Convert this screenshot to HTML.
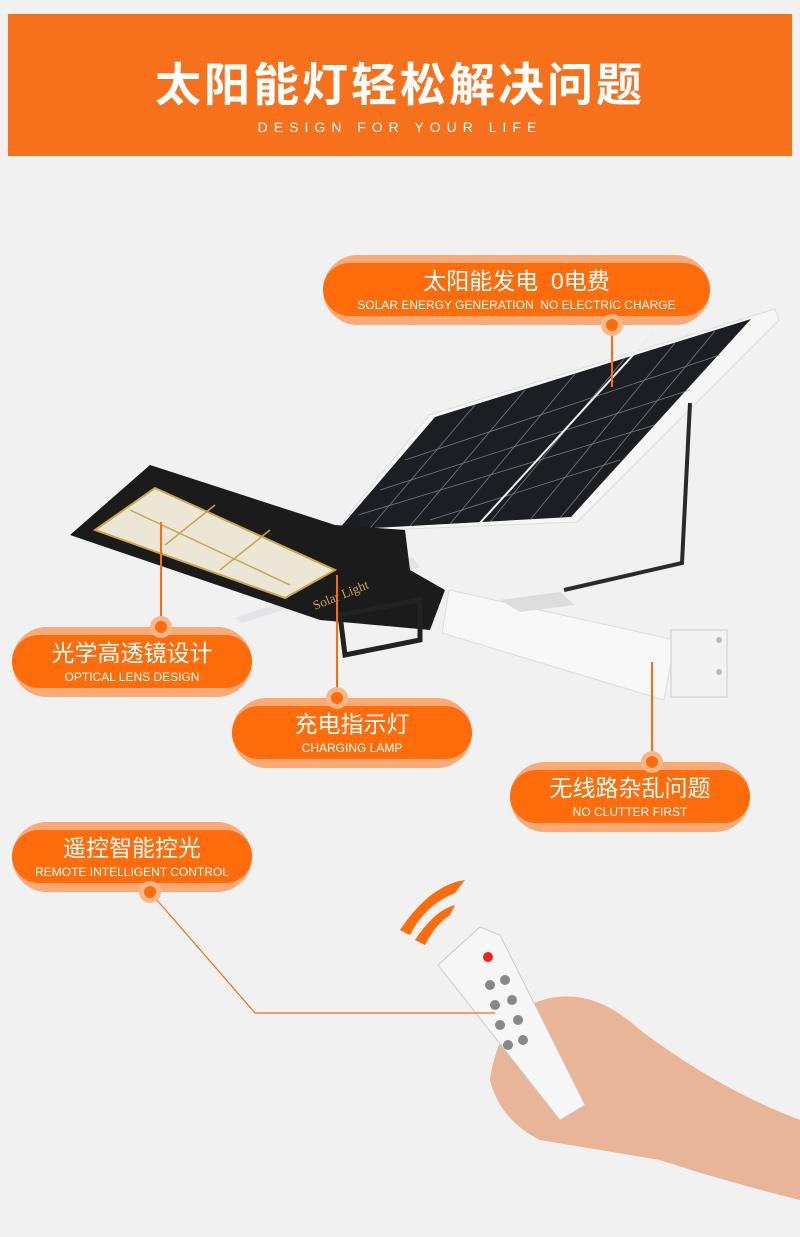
<!DOCTYPE html>
<html><head><meta charset="utf-8"><style>
body{margin:0;width:800px;height:1237px;background:#f1f1f1;position:relative;overflow:hidden;font-family:"Liberation Sans","Noto Sans CJK SC",sans-serif}
.hdr{position:absolute;left:8px;top:14px;width:784px;height:142px;background:#f7711c}
.hdr h1{margin:0;position:absolute;top:46px;width:100%;text-align:center;color:#fff;font-size:46px;font-weight:bold;letter-spacing:3px;line-height:50px}
.hdr p{margin:0;position:absolute;top:105px;width:100%;text-align:center;color:#fff;font-size:14px;letter-spacing:6px}
.pill{position:absolute;height:70px;border-radius:35px;background:#f9aa76}
.pill .in{position:absolute;left:0;right:0;top:8px;height:53px;border-radius:27px;background:#fe6c0c;color:#fff;text-align:center}
.pill .cn{font-size:23px;line-height:26px;padding-top:5px}
.pill .en{font-size:12px;line-height:16px;margin-top:3px}
.dot{position:absolute;width:12px;height:12px;border-radius:50%;background:#fe6c0c;box-shadow:0 0 0 5px #f9b78a}
.ln{position:absolute;background:#fe6c0c}
</style></head><body>
<div class="hdr"><h1>太阳能灯轻松解决问题</h1><p>DESIGN FOR YOUR LIFE</p></div>

<svg style="position:absolute;left:0;top:0" width="800" height="1237">
 <!-- panel underside strip -->
 <polygon points="235,618 412,557 420,567 242,623" fill="#e2e4e7"/>
 <!-- solar panel -->
 <polygon points="429,415 775,309 779,320 577,522 335,532" fill="#f6f6f6" stroke="#ddd"/>
 <polygon points="435,417 751,319 571,517 338,530" fill="#1c1e24"/>
 <g stroke="#8a8f9a" stroke-width="0.8" opacity=".8">
  <line x1="475" y1="405" x2="370" y2="528"/><line x1="525" y1="390" x2="410" y2="526"/><line x1="575" y1="374" x2="450" y2="524"/>
  <line x1="625" y1="358" x2="490" y2="522"/><line x1="675" y1="343" x2="530" y2="520"/><line x1="715" y1="331" x2="560" y2="518"/>
  <line x1="405" y1="460" x2="720" y2="355"/><line x1="380" y1="490" x2="690" y2="390"/><line x1="358" y1="515" x2="655" y2="425"/>
  <line x1="430" y1="520" x2="620" y2="460"/>
 </g>
 <line x1="654" y1="332" x2="478" y2="525" stroke="#eee" stroke-width="2"/>
 <!-- bracket -->
 <polyline points="690,403 682,563 564,590" fill="none" stroke="#2a2a2a" stroke-width="4"/>
 <!-- pole -->
 <polygon points="449,590 675,640 664,700 442,633" fill="#f8f8f8" stroke="#ddd"/>
 <polygon points="500,600 560,592 575,605 520,612" fill="#ddd"/>
 <rect x="671" y="630" width="56" height="67" fill="#f2f2f2" stroke="#ccc"/>
 <circle cx="719" cy="640" r="3" fill="#bbb"/><circle cx="719" cy="672" r="3" fill="#bbb"/>
 <!-- lamp -->
 <polygon points="70,535 150,465 335,525 405,530 410,570 445,590 430,630 320,620" fill="#1b1b1b"/>
 <polygon points="95,530 155,488 335,570 285,598" fill="#ece6d6" stroke="#c9a64a" stroke-width="2"/>
 <g stroke="#c9a64a" stroke-width="1.5"><line x1="165" y1="545" x2="215" y2="505"/><line x1="220" y1="570" x2="270" y2="530"/><line x1="130" y1="510" x2="290" y2="585"/></g>
 <text x="315" y="610" font-size="13" fill="#c9a64a" transform="rotate(-22 315 610)" font-family="Liberation Serif">Solar Light</text>
 <polygon points="340,615 420,600 420,640 345,655" fill="none" stroke="#222" stroke-width="5"/>
 <!-- signal waves -->
 <path d="M400,930 Q430,885 465,880 L455,893 Q425,905 410,935Z" fill="#fe6c0c"/>
 <path d="M415,940 Q435,910 455,905 L450,915 Q435,925 425,945Z" fill="#fe6c0c"/>
 <!-- hand -->
 <path d="M520,1010 Q580,975 640,1030 Q720,1090 800,1120 L800,1200 Q720,1180 660,1160 Q600,1150 540,1140 Q500,1120 490,1080 Q495,1040 520,1010Z" fill="#e8b598"/>
 <!-- remote -->
 <polygon points="438,965 480,927 500,935 585,1105 560,1120" fill="#f7f7f7" stroke="#ccc"/>
 <circle cx="488" cy="957" r="5" fill="#e22"/>
 <g fill="#888"><circle cx="490" cy="985" r="5"/><circle cx="505" cy="980" r="5"/><circle cx="495" cy="1005" r="5"/><circle cx="512" cy="1000" r="5"/><circle cx="500" cy="1025" r="5"/><circle cx="518" cy="1020" r="5"/><circle cx="508" cy="1045" r="5"/><circle cx="523" cy="1040" r="5"/></g>
 <!-- connector 5 -->
 <polyline points="150,892 255,1013 495,1013" fill="none" stroke="#fe6c0c" stroke-width="1.2"/>
</svg>

<div class="ln" style="left:611px;top:325px;width:1.5px;height:62px"></div>
<div class="ln" style="left:160px;top:522px;width:1.5px;height:105px"></div>
<div class="ln" style="left:336px;top:575px;width:1.5px;height:123px"></div>
<div class="ln" style="left:651px;top:662px;width:1.5px;height:100px"></div>

<div class="pill" style="left:323px;top:255px;width:387px"><div class="in"><div class="cn">太阳能发电&nbsp; 0电费</div><div class="en">SOLAR ENERGY GENERATION&nbsp; NO ELECTRIC CHARGE</div></div></div>
<div class="pill" style="left:12px;top:627px;width:240px"><div class="in"><div class="cn">光学高透镜设计</div><div class="en">OPTICAL LENS DESIGN</div></div></div>
<div class="pill" style="left:232px;top:698px;width:240px"><div class="in"><div class="cn">充电指示灯</div><div class="en">CHARGING LAMP</div></div></div>
<div class="pill" style="left:510px;top:762px;width:240px"><div class="in"><div class="cn">无线路杂乱问题</div><div class="en">NO CLUTTER FIRST</div></div></div>
<div class="pill" style="left:12px;top:822px;width:240px"><div class="in"><div class="cn">遥控智能控光</div><div class="en">REMOTE INTELLIGENT CONTROL</div></div></div>

<div class="dot" style="left:606px;top:319px"></div>
<div class="dot" style="left:155px;top:621px"></div>
<div class="dot" style="left:331px;top:692px"></div>
<div class="dot" style="left:646px;top:756px"></div>
<div class="dot" style="left:144px;top:886px"></div>
</body></html>
